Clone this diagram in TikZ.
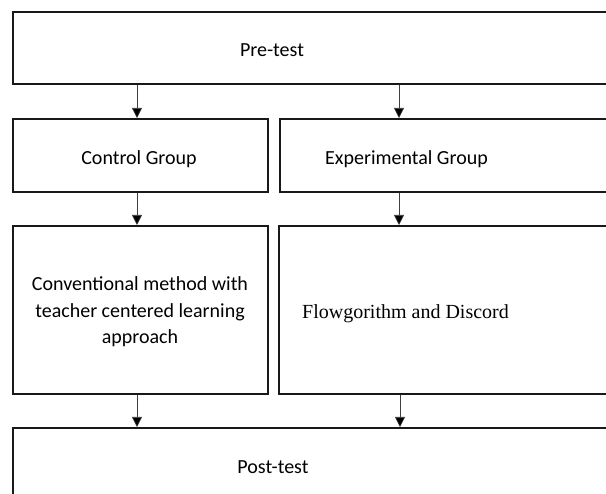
\documentclass[tikz,border=0pt]{standalone}
\usepackage{fontspec}
\setmainfont{Carlito}
\newfontfamily\timesf{Liberation Serif}
\usetikzlibrary{arrows.meta}
\begin{document}
\begin{tikzpicture}[x=1pt,y=-1pt,
  box/.style={draw=black!90,line width=1.6pt,rectangle,anchor=north west,inner sep=0pt},
  lbl/.style={inner sep=0pt,font=\fontsize{20}{26.5}\selectfont,align=center},
  arr/.style={draw=black!75,line width=0.6pt,-{Triangle[width=10pt,length=10pt,fill=black]}}]
\useasboundingbox (0,0) rectangle (606,494);
\clip (0,0) rectangle (606,494);
\fill[white] (0,0) rectangle (606,494);
% boxes
\node[box,minimum width=640pt,minimum height=71.5pt] (pre) at (12,11.5) {};
\node[box,minimum width=255pt,minimum height=73pt] (ctl) at (12,118) {};
\node[box,minimum width=373pt,minimum height=73pt] (exp) at (279,118) {};
\node[box,minimum width=255pt,minimum height=168pt] (conv) at (12,225) {};
\node[box,minimum width=374pt,minimum height=168pt] (flow) at (278,225) {};
\node[box,minimum width=640pt,minimum height=100pt] (post) at (12,427) {};
% texts
\node[lbl,anchor=base] (pretxt) at (272,57) {Pre-test};
\node[lbl,anchor=base] (ctltxt) at (139,164.5) {Control Group};
\node[lbl,anchor=base] (exptxt) at (406.5,164.5) {Experimental Group};
\node[lbl] (convtxt) at (140,312) {Conventional method with\\teacher centered learning\\approach};
\node[lbl,anchor=base,font=\fontsize{20}{24}\timesf] (flowtxt) at (405.5,319) {Flowgorithm and Discord};
\node[lbl,anchor=base] (posttxt) at (273,474) {Post-test};
% arrow columns
\coordinate (xl) at (137,0);
\coordinate (xr) at (399,0);
\coordinate (xr2) at (400,0);
% connectors
\draw[arr] (pre.south -| xl) -- (ctl.north -| xl);
\draw[arr] (pre.south -| xr) -- (exp.north -| xr);
\draw[arr] (ctl.south -| xl) -- (conv.north -| xl);
\draw[arr] (exp.south -| xr) -- (flow.north -| xr);
\draw[arr] (conv.south -| xl) -- (post.north -| xl);
\draw[arr] (flow.south -| xr2) -- (post.north -| xr2);
\end{tikzpicture}
\end{document}
